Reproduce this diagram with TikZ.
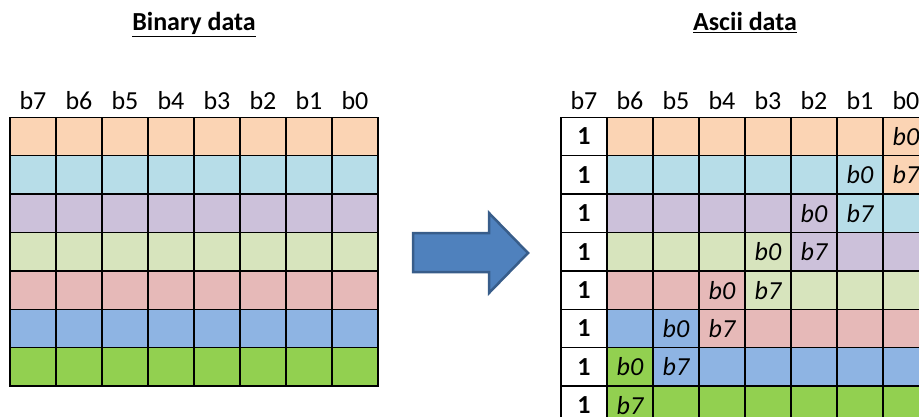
\documentclass[tikz,border=0pt]{standalone}
\usepackage{fontspec}
\setmainfont{Carlito}
\definecolor{col0}{HTML}{FBD4B4}
\definecolor{col1}{HTML}{B7DDE8}
\definecolor{col2}{HTML}{CCC1DA}
\definecolor{col3}{HTML}{D7E4BD}
\definecolor{col4}{HTML}{E6B9B8}
\definecolor{col5}{HTML}{8EB4E3}
\definecolor{col6}{HTML}{92D050}
\definecolor{arrowfill}{HTML}{4F81BD}
\definecolor{arrowline}{HTML}{385D8A}
\begin{document}
\begin{tikzpicture}[x=1pt,y=-1pt,
  cell/.style={draw=black, line width=1.5pt, minimum width=46pt, minimum height=38.4pt,
    inner sep=0pt, outer sep=0pt, anchor=north west,
    font=\fontsize{26}{30}\selectfont\itshape},
  onecell/.style={cell, fill=white, font=\fontsize{26}{30}\selectfont\bfseries},
  hdr/.style={anchor=base, inner sep=0pt, font=\fontsize{26}{30}\selectfont},
  title/.style={anchor=base, inner sep=0pt, font=\fontsize{26}{30}\selectfont\bfseries},
  bigarrow/.style={fill=arrowfill, draw=arrowline, line width=2.5pt, line join=miter}]
\useasboundingbox (0,0) rectangle (919,417);
\clip (0,0) rectangle (919,417);
% titles
\node[title] (t1) at (194,31) {\underline{Binary data}};
\node[title] (t2) at (745,31) {\underline{Ascii data}};
% headers
\foreach \i/\b in {0/7,1/6,2/5,3/4,4/3,5/2,6/1,7/0} {
  \node[hdr] (hl\i) at (33+46*\i,110) {b\b};
  \node[hdr] (hr\i) at (584+46*\i,110) {b\b};
}
% left grid
\foreach \r in {0,...,6} {
  \foreach \c in {0,...,7} {
    \node[cell, fill=col\r] (L-\r-\c) at (10+46*\c,117.3+38.4*\r) {};
  }
}
% right grid
\foreach \r in {0,...,7} {
  \node[onecell] (R-\r-0) at (561,117.3+38.4*\r) {1};
  \foreach \c in {1,...,7} {
    \pgfmathtruncatemacro\k{\c<=7-\r ? \r : \r-1}
    \pgfmathtruncatemacro\lab{\c==7-\r ? 0 : (\c==8-\r ? 7 : -1)}
    \node[cell, fill=col\k] (R-\r-\c) at (561+46*\c,117.3+38.4*\r)
      {\ifnum\lab<0 \else b\lab\fi};
  }
}
% arrow
\path[bigarrow] (413,233) -- (489,233) -- (489,213) -- (528,253) -- (489,293) -- (489,272) -- (413,272) -- cycle;
\end{tikzpicture}
\end{document}
